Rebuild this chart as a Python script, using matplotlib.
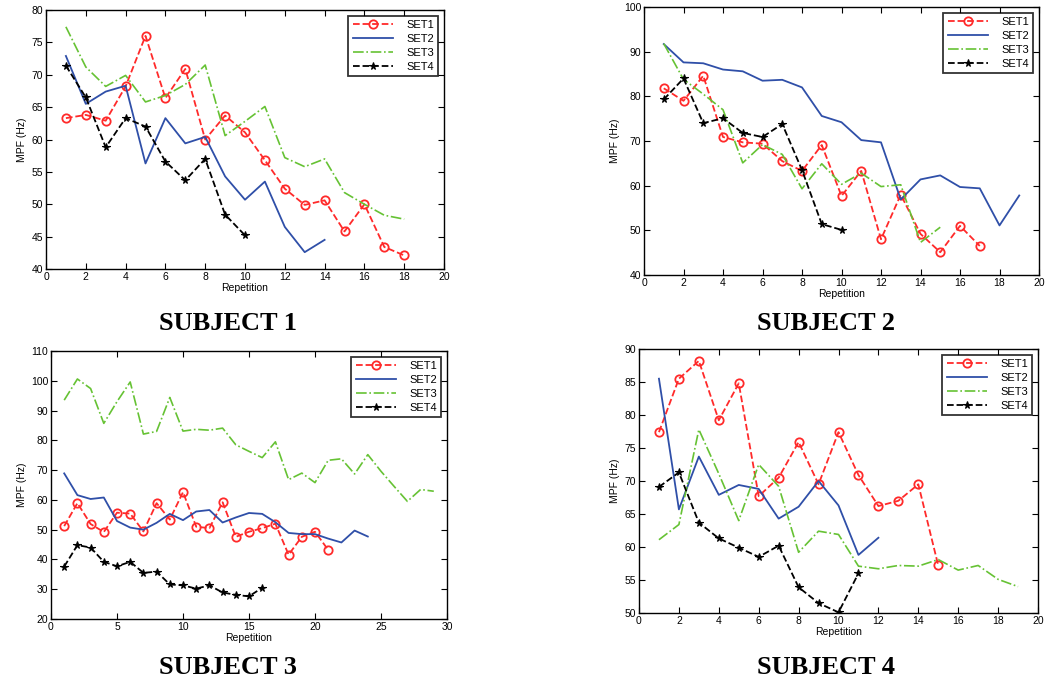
import matplotlib
matplotlib.use("Agg")
import matplotlib.pyplot as plt
import numpy as np

# ---------------- data ----------------
s1_set1 = [63.3, 63.8, 62.9, 68.2, 76.0, 66.4, 70.9, 60.0, 63.7, 61.1, 56.8, 52.4, 49.9, 50.6, 45.8, 50.0, 43.4, 42.1]
s1_set2 = [72.9, 65.5, 67.4, 68.3, 56.3, 63.3, 59.4, 60.4, 54.3, 50.7, 53.5, 46.5, 42.6, 44.5]
s1_set3 = [77.4, 71.2, 68.2, 69.9, 65.8, 66.8, 68.5, 71.5, 60.6, 62.8, 65.1, 57.2, 55.8, 57.0, 51.8, 50.0, 48.3, 47.7]
s1_set4 = [71.4, 66.5, 58.8, 63.3, 62.0, 56.6, 53.7, 57.0, 48.4, 45.2]

s2_set1 = [81.8, 79.0, 84.6, 70.9, 69.7, 69.4, 65.5, 63.3, 69.1, 57.7, 63.3, 48.0, 58.0, 49.2, 45.1, 51.0, 46.5]
s2_set2 = [91.7, 87.6, 87.4, 86.0, 85.6, 83.5, 83.7, 82.0, 75.6, 74.2, 70.2, 69.7, 56.9, 61.4, 62.3, 59.7, 59.4, 51.1, 57.8]
s2_set3 = [91.8, 83.8, 80.5, 77.0, 65.1, 69.2, 67.0, 59.3, 64.9, 60.3, 62.8, 59.8, 60.2, 47.3, 50.7]
s2_set4 = [79.3, 84.0, 74.0, 75.1, 71.8, 70.9, 73.8, 63.5, 51.4, 50.1]

s3_set1 = [51.2, 58.9, 51.9, 49.2, 55.7, 55.4, 49.4, 58.9, 53.4, 62.6, 51.0, 50.5, 59.2, 47.6, 49.3, 50.5, 52.0, 41.6, 47.6, 49.3, 43.2]
s3_set2 = [68.9, 61.6, 60.3, 60.8, 52.9, 50.7, 50.0, 52.3, 55.3, 53.2, 56.1, 56.6, 52.4, 54.1, 55.6, 55.3, 52.5, 48.9, 48.5, 48.5, 47.0, 45.7, 49.7, 47.7]
s3_set3 = [93.5, 100.6, 97.4, 85.7, 93.0, 99.6, 82.1, 83.0, 94.4, 83.1, 83.7, 83.4, 84.1, 78.5, 76.3, 74.2, 79.5, 66.8, 69.0, 65.8, 73.3, 73.8, 68.7, 75.2, 69.6, 64.5, 59.5, 63.5, 62.9]
s3_set4 = [37.6, 44.8, 44.0, 39.2, 37.7, 39.2, 35.5, 35.9, 31.6, 31.3, 30.2, 31.3, 28.9, 28.1, 27.6, 30.5]

s4_set1 = [77.4, 85.5, 88.2, 79.2, 84.8, 67.7, 70.5, 75.9, 69.5, 77.4, 70.9, 66.2, 67.0, 69.5, 57.2]
s4_set2 = [85.5, 65.7, 73.7, 67.9, 69.4, 68.8, 64.3, 66.1, 70.0, 66.3, 58.8, 61.4]
s4_set3 = [61.1, 63.4, 77.8, 71.1, 64.0, 72.5, 69.2, 59.2, 62.4, 61.9, 57.1, 56.7, 57.2, 57.1, 58.1, 56.5, 57.2, 55.1, 54.0]
s4_set4 = [69.1, 71.3, 63.7, 61.3, 59.9, 58.5, 60.2, 53.9, 51.5, 50.1, 56.0]

titles = ["SUBJECT 1", "SUBJECT 2", "SUBJECT 3", "SUBJECT 4"]
set_labels = ["SET1", "SET2", "SET3", "SET4"]
subjects = [
    [s1_set1, s1_set2, s1_set3, s1_set4],
    [s2_set1, s2_set2, s2_set3, s2_set4],
    [s3_set1, s3_set2, s3_set3, s3_set4],
    [s4_set1, s4_set2, s4_set3, s4_set4],
]
xlims = [(0, 20), (0, 20), (0, 30), (0, 20)]
ylims = [(40, 80), (40, 100), (20, 110), (50, 90)]
xsteps = [2, 2, 5, 2]
ysteps = [5, 10, 10, 5]

# ---------------- layout ----------------
W, H = 1046, 684
fig = plt.figure(figsize=(W / 100, H / 100), dpi=100)
plt.rcParams['font.family'] = ['Liberation Sans', 'DejaVu Sans']

# (left, top, right, bottom) in pixels
boxes = [(46, 10, 444, 269), (644, 7, 1039, 275), (51, 351, 447, 619), (639, 349, 1038, 613)]
title_pos = [(228, 323), (826, 323), (228, 667), (826, 667)]

styles = [
    dict(color='#FF2A2A', ls='--', marker='o', mfc='none', mec='#FF2A2A', ms=6, mew=1.3, lw=1.3),
    dict(color='#2F4FA8', ls='-', lw=1.3),
    dict(color='#66C234', ls='-.', lw=1.2),
    dict(color='black', ls='--', marker='*', ms=5.5, mfc='black', mec='black', mew=0.8, lw=1.3),
]

for i, (box, data) in enumerate(zip(boxes, subjects)):
    l, t, r, b = box
    ax = fig.add_axes([l / W, 1 - b / H, (r - l) / W, (b - t) / H])
    for vals, st, lab in zip(data, styles, set_labels):
        x = np.arange(1, len(vals) + 1)
        ax.plot(x, vals, label=lab, **st)
    ax.set_xlim(*xlims[i])
    ax.set_ylim(*ylims[i])
    ax.set_xticks(np.arange(xlims[i][0], xlims[i][1] + 0.01, xsteps[i]))
    ax.set_yticks(np.arange(ylims[i][0], ylims[i][1] + 0.01, ysteps[i]))
    ax.tick_params(direction='in', top=True, right=True, length=4, width=0.8,
                   labelsize=7.5, pad=2)
    for sp in ax.spines.values():
        sp.set_linewidth(1.0)
    ax.set_xlabel("Repetition", fontsize=7.5, labelpad=1)
    ax.set_ylabel("MPF (Hz)", fontsize=7.5, labelpad=3)
    leg = ax.legend(loc='upper right', fontsize=8, frameon=True, fancybox=False,
                    handlelength=3.6, borderaxespad=0.5, labelspacing=0.35,
                    handletextpad=1.2, borderpad=0.4)
    leg.get_frame().set_edgecolor('black')
    leg.get_frame().set_linewidth(1.3)
    tx, ty = title_pos[i]
    fig.text(tx / W, 1 - ty / H, titles[i], ha='center', va='center',
             fontsize=19, fontweight='bold', family=['Liberation Serif', 'DejaVu Serif'])

fig.savefig("out.png", dpi=100)
